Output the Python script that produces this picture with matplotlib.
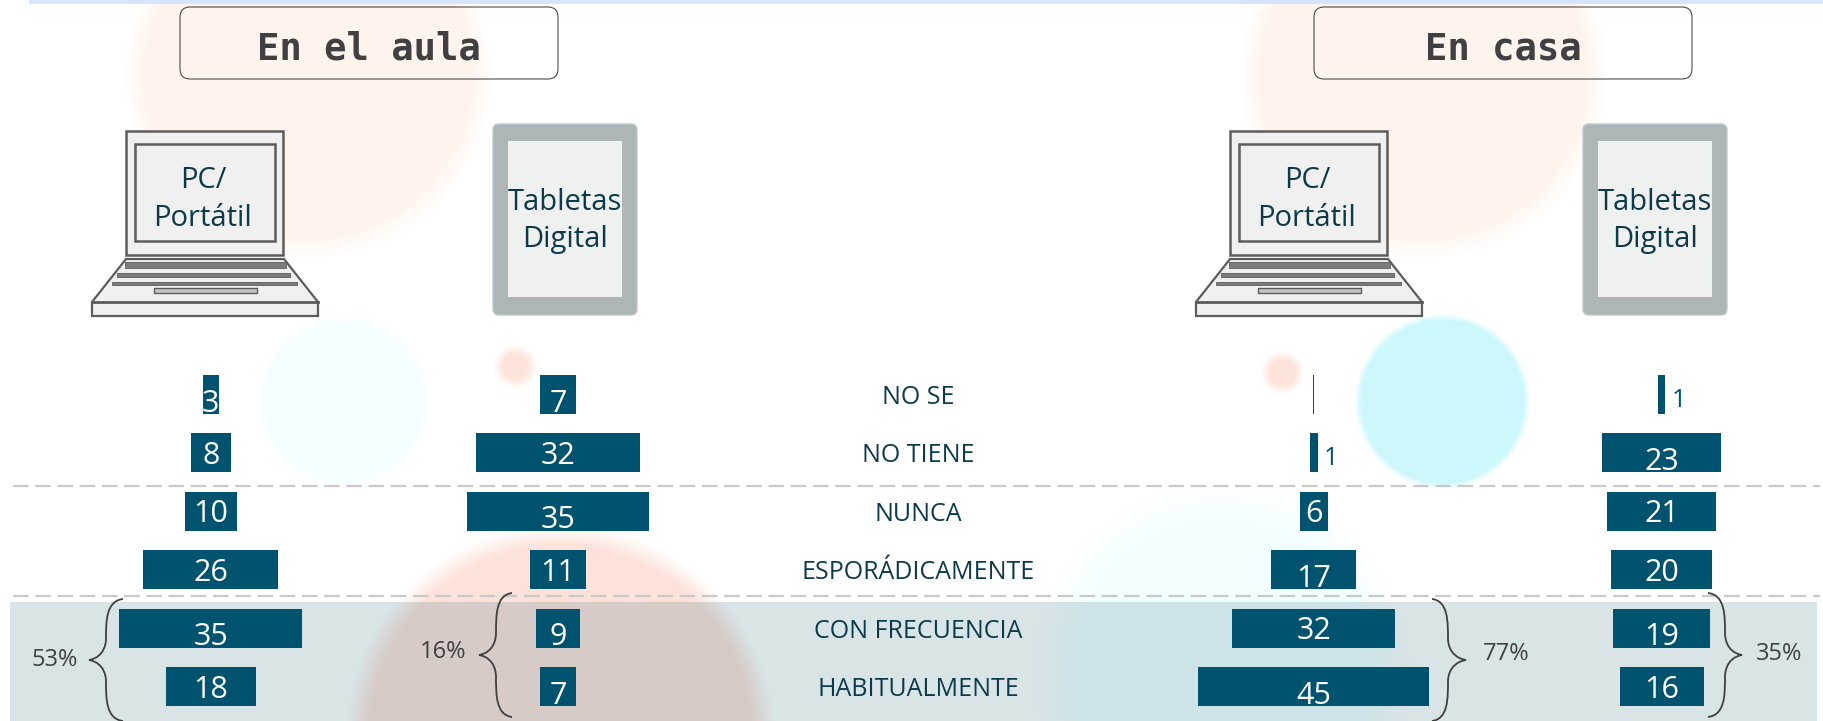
import numpy as np
import matplotlib
matplotlib.use("Agg")
import matplotlib.pyplot as plt
from matplotlib.patches import FancyBboxPatch, Polygon, Rectangle, PathPatch
from matplotlib.path import Path

W, H = 1824, 721
TEAL = "#00536e"
INK = "#0d3a4a"
GREY = "#404040"

categories = ["NO SE", "NO TIENE", "NUNCA", "ESPORÁDICAMENTE", "CON FRECUENCIA", "HABITUALMENTE"]

# bar lengths as measured, printed labels kept apart
aula_pc = [3.1, 7.8, 10.1, 26.2, 35.5, 17.4]
aula_pc_labels = ["3", "8", "10", "26", "35", "18"]
aula_tablet = [6.8, 31.9, 35.3, 10.8, 8.7, 6.8]
aula_tablet_labels = ["7", "32", "35", "11", "9", "7"]
casa_pc = [0.2, 1.5, 5.5, 16.5, 31.6, 44.8]
casa_pc_labels = ["", "1", "6", "17", "32", "45"]
casa_tablet = [1.4, 23.0, 21.1, 19.5, 18.9, 16.3]
casa_tablet_labels = ["1", "23", "21", "20", "19", "16"]

group_totals = ["53%", "16%", "77%", "35%"]
panels = ["En el aula", "En casa"]

plt.rcParams["font.family"] = ["Open Sans", "DejaVu Sans"]
fig = plt.figure(figsize=(W / 100, H / 100), dpi=100, facecolor="white")

# background layer, in pixels
bg = fig.add_axes([0, 0, 1, 1])
bg.set_xlim(0, W)
bg.set_ylim(H, 0)
bg.axis("off")

# soft pale circles behind everything
xx, yy = np.meshgrid(np.arange(W), np.arange(H))
canvas = np.ones((H, W, 3))
circles = [
    (308, 74, 184, "#fff4ed", 22),
    (1423, 74, 184, "#fff4ed", 22),
    (343, 401, 88, "#f3feff", 14),
    (515, 366, 22, "#fde3da", 10),
    (1282, 372, 22, "#fde3da", 10),
    (1442, 401, 88, "#ccf8fc", 7),
    (560, 738, 214, "#fde2d9", 22),
    (1221, 670, 188, "#f0feff", 45),
]
for cx, cy, r, col, blur in circles:
    d = np.hypot(xx - cx, yy - cy)
    a = np.clip((r - d) / blur, 0, 1)[..., None]
    canvas = canvas * (1 - a) + np.array(matplotlib.colors.to_rgb(col)) * a
bg.imshow(canvas, extent=(0, W, H, 0), aspect="auto", interpolation="bilinear", zorder=0)
bg.set_xlim(0, W)
bg.set_ylim(H, 0)

bg.add_patch(Rectangle((29, 0), W - 29, 4, color="#d6e4ff", lw=0, zorder=1))
bg.add_patch(Rectangle((10, 602), 1807, 119, color="#004a62", alpha=0.15, lw=0, zorder=1))

for y in [485.5, 596]:
    bg.plot([13, 1820], [y, y], color="#c9c9c9", lw=1.6, dashes=(7, 3), zorder=2)


def draw_box(x0, x1, text):
    bg.add_patch(FancyBboxPatch((x0 + 10, 17), x1 - x0 - 20, 52, boxstyle="round,pad=10,rounding_size=10",
                                fc="none", ec="#333333", lw=0.7, zorder=3))
    bg.text((x0 + x1) / 2, 49, text, ha="center", va="center", fontsize=26.8, color=GREY,
            family="DejaVu Sans Mono", weight="bold", zorder=4)


def draw_laptop(dx):
    edge = "#5c5c5c"
    fill = "#f0f0f0"
    bg.add_patch(Polygon([(126 + dx, 259), (284 + dx, 259), (318 + dx, 302), (318 + dx, 316),
                          (92 + dx, 316), (92 + dx, 302)], fc=fill, ec=edge, lw=1.6, zorder=3))
    bg.plot([92 + dx, 318 + dx], [302, 302], color=edge, lw=2, zorder=3)
    for y0, y1, x0, x1 in [(262, 268, 125, 286), (273, 277, 117, 290), (282, 285, 112, 297)]:
        bg.add_patch(Rectangle((x0 + dx, y0), x1 - x0, y1 - y0, fc="#7c7c7c", ec="#5c5c5c", lw=0.6, zorder=3))
    bg.add_patch(Rectangle((154 + dx, 288), 103, 5, fc="#c4c4c4", ec=edge, lw=1, zorder=3))
    bg.add_patch(Rectangle((126 + dx, 131), 157, 124, fc=fill, ec=edge, lw=1.8, zorder=3))
    bg.add_patch(Rectangle((135 + dx, 144), 140, 97, fc=fill, ec=edge, lw=1.8, zorder=3))
    bg.text(203 + dx, 180, "PC/", ha="center", va="center", fontsize=21, color=INK, zorder=4)
    bg.text(203 + dx, 219, "Portátil", ha="center", va="center", fontsize=21, color=INK, zorder=4)


def draw_tablet(dx):
    bg.add_patch(FancyBboxPatch((497 + dx, 128), 136, 183, boxstyle="round,pad=4,rounding_size=6",
                                fc="#adb5b7", ec="#c2c8ca", lw=1, zorder=3))
    bg.add_patch(Rectangle((508 + dx, 141), 114, 156, fc="#eff0f0", lw=0, zorder=3))
    bg.text(565 + dx, 202, "Tabletas", ha="center", va="center", fontsize=21, color=INK, zorder=4)
    bg.text(565 + dx, 240, "Digital", ha="center", va="center", fontsize=21, color=INK, zorder=4)


def draw_brace(tip, spine, end, top, mid, bottom):
    # end is the x of the two hooks, tip the point toward the percentage
    verts = [(end, top), (spine, top + 2), (spine, top + 22), (spine, top + 40),
             (spine, mid - 20), (spine, mid - 3), (tip, mid),
             (spine, mid + 3), (spine, mid + 20), (spine, bottom - 40),
             (spine, bottom - 22), (spine, bottom - 2), (end, bottom)]
    codes = [Path.MOVETO] + [Path.CURVE4] * 12
    bg.add_patch(PathPatch(Path(verts, codes), fc="none", ec=GREY, lw=1.3, zorder=5))


draw_box(180, 558, panels[0])
draw_box(1314, 1692, panels[1])
draw_laptop(0)
draw_laptop(1104)
draw_tablet(0)
draw_tablet(1090)

draw_brace(89, 106, 123, 599, 660, 721)
draw_brace(479, 496, 512, 593, 655, 717)
draw_brace(1466, 1448, 1432, 599, 660, 721)
draw_brace(1742, 1725, 1708, 593, 655, 717)
for x, y, t in zip([54.5, 443, 1506, 1779], [660, 652, 654, 654], group_totals):
    bg.text(x, y, t, ha="center", va="center", fontsize=17, color=GREY, zorder=5)

# rows: same vertical scale in every column
PX_PER_UNIT = 5.15
TOP, PITCH = 365.3, 58.4
HALF = 24


def row_axes(center):
    width = 2 * HALF * PX_PER_UNIT
    ax = fig.add_axes([(center - width / 2) / W, 1 - (TOP + 6 * PITCH) / H, width / W, 6 * PITCH / H])
    ax.set_xlim(-HALF, HALF)
    ax.set_ylim(5.5, -0.5)
    ax.axis("off")
    ax.patch.set_alpha(0)
    return ax


columns = [
    (210.7, aula_pc, aula_pc_labels),
    (558, aula_tablet, aula_tablet_labels),
    (1313.8, casa_pc, casa_pc_labels),
    (1661.6, casa_tablet, casa_tablet_labels),
]
for center, values, labels in columns:
    ax = row_axes(center)
    ypos = np.arange(len(values))
    ax.barh(ypos, values, left=-np.array(values) / 2, height=0.668, color=TEAL, lw=0)
    for y, v, lab in zip(ypos, values, labels):
        if lab == "1":
            ax.annotate(lab, (v / 2, y), xytext=(6, -6), textcoords="offset pixels", ha="left", va="center",
                        fontsize=18, color=TEAL, annotation_clip=False)
        elif lab:
            # old style figures hang lower in the source
            drop = 9 if lab[-1] in "34579" else 3
            ax.annotate(lab, (0, y), xytext=(0, -drop), textcoords="offset pixels", ha="center", va="center",
                        fontsize=22, color="white", annotation_clip=False)

mid = row_axes(918)
for y, name in enumerate(categories):
    mid.annotate(name, (0, y), xytext=(0, -3), textcoords="offset pixels", ha="center", va="center",
                 fontsize=18, color=INK, annotation_clip=False)

fig.savefig("out.png", dpi=100)
